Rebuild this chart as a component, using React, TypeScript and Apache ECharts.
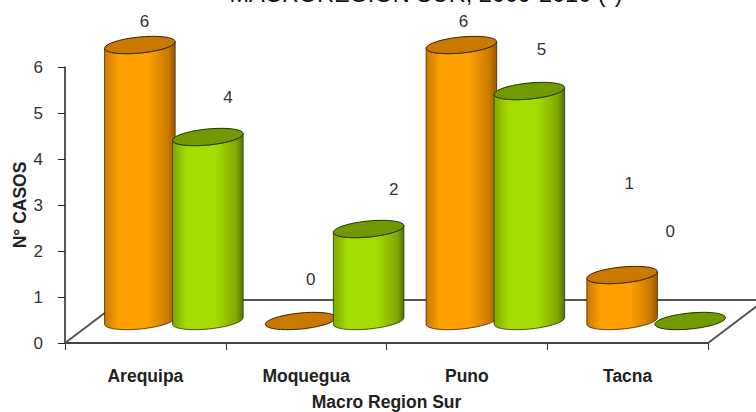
import React, { useEffect, useRef } from "react";
import * as echarts from "echarts";

const categories = ["Arequipa", "Moquegua", "Puno", "Tacna"];
const orangeValues = [6, 0, 6, 1];
const greenValues = [4, 2, 5, 0];
const valueTicks = [0, 1, 2, 3, 4, 5, 6];

// Where each count sits relative to the top of its cylinder.
const orangeLabelNudge = [[4.5, -24], [10, -42], [2, -24], [7, -92]];
const greenLabelNudge = [[20, -40], [25, -40], [12, -42], [-20, -90]];

const FONT = "'Liberation Sans', Arial, sans-serif";
const TILT_RAD = (5.6 * Math.PI) / 180; // lean of the cylinder ellipses
const FLOOR_LIFT = 22; // px from the axis baseline up to the middle of the cylinder bases
const DEPTH_SHIFT = 28.5; // px the columns sit to the right of the band centre
const RY = 8;

type Palette = { edge: string; darkEdge: string; mid: string; top: string; line: string };
const orangePalette: Palette = { edge: "#c87a00", darkEdge: "#9c5a00", mid: "#ff9f00", top: "#c97800", line: "#3d2200" };
const greenPalette: Palette = { edge: "#7fa800", darkEdge: "#557500", mid: "#a2dc00", top: "#6f9a00", line: "#243300" };

// Point on a leaning ellipse; t = 0 is its right end, t = PI/2 its lower side.
function ellipsePoint(cx: number, cy: number, rx: number, t: number) {
  const ex = rx * Math.cos(t);
  const ey = RY * Math.sin(t);
  return [cx + ex * Math.cos(TILT_RAD) + ey * Math.sin(TILT_RAD), cy - ex * Math.sin(TILT_RAD) + ey * Math.cos(TILT_RAD)];
}

function arcPath(cx: number, cy: number, rx: number, from: number, to: number) {
  const steps = 40;
  const parts: string[] = [];
  for (let i = 0; i <= steps; i++) {
    const p = ellipsePoint(cx, cy, rx, from + ((to - from) * i) / steps);
    parts.push(`${p[0].toFixed(2)} ${p[1].toFixed(2)}`);
  }
  return parts;
}

function cylinderSeries(
  name: string,
  values: number[],
  side: number,
  palette: Palette,
  nudges: number[][],
) {
  return {
    name,
    type: "custom",
    coordinateSystem: "cartesian2d",
    clip: false,
    data: values.map((v, i) => [i, v]),
    encode: { x: 0, y: 1 },
    renderItem: (params: any, api: any) => {
      const cat = api.value(0);
      const val = api.value(1);
      const band = api.size([1, 0])[0];
      const [cx0, topY0] = api.coord([cat, val]);
      const baseY0 = api.coord([cat, 0])[1];
      const cx = cx0 + DEPTH_SHIFT + side * band * 0.2115;
      const rx = band * 0.2205;
      const topY = topY0 - FLOOR_LIFT;
      const baseY = baseY0 - FLOOR_LIFT;
      const ellipse = "M " + arcPath(cx, topY, rx, 0, Math.PI * 2).join(" L ") + " Z";
      // Outer outline: lower half of the base, then the lower edge of the top ellipse.
      const bodyPts = [
        ...arcPath(cx, baseY, rx, Math.PI, 0),
        ...arcPath(cx, topY, rx, 0, Math.PI),
      ];
      const body = "M " + bodyPts.join(" L ") + " Z";
      const nudge = nudges[params.dataIndex];
      const children: any[] = [];
      if (val > 0) {
        children.push({
          type: "path",
          shape: { pathData: body },
          style: {
            fill: new echarts.graphic.LinearGradient(0, 0, 1, 0, [
              { offset: 0, color: palette.edge },
              { offset: 0.2, color: palette.mid },
              { offset: 0.62, color: palette.mid },
              { offset: 0.9, color: palette.edge },
              { offset: 1, color: palette.darkEdge },
            ]),
            stroke: palette.line,
            lineWidth: 0.8,
          },
        });
      }
      children.push({
        type: "path",
        shape: { pathData: ellipse },
        style: { fill: palette.top, stroke: palette.line, lineWidth: 1 },
      });
      children.push({
        type: "text",
        style: {
          text: String(val),
          x: cx + nudge[0],
          y: topY + nudge[1],
          fill: "#333333",
          font: `17px ${FONT}`,
          align: "center",
          verticalAlign: "middle",
        },
      });
      return { type: "group", children };
    },
  };
}

// The floor of the plot: a receding parallelogram behind the columns.
const floorSeries = {
  type: "custom",
  coordinateSystem: "cartesian2d",
  clip: false,
  silent: true,
  z: 1,
  data: [[0, 0]],
  renderItem: (_params: any, api: any) => {
    const band = api.size([1, 0])[0];
    const [x0, y0] = api.coord([0, 0]);
    const left = x0 - band / 2;
    const right = left + band * categories.length;
    return {
      type: "polyline",
      shape: { points: [[left, y0], [left + 57, y0 - 43], [right + 57, y0 - 43], [right, y0]] },
      style: { stroke: "#555555", lineWidth: 2, fill: "none" },
    };
  },
};

const boldText = { fontFamily: FONT, fontSize: 17.5, fontWeight: "bold", color: "#222222" };

export default function App() {
  const ref = useRef<HTMLDivElement>(null);
  useEffect(() => {
    const chart = echarts.init(ref.current!, null, { renderer: "svg" });
    chart.setOption({
      animation: false,
      backgroundColor: "#ffffff",
      title: {
        text: "MACROREGION SUR, 2009-2010 (*)",
        left: 421,
        textAlign: "center",
        top: -23,
        textStyle: { fontFamily: FONT, fontSize: 23.5, fontWeight: "normal", color: "#111111" },
      },
      grid: { left: 65, right: 48, top: 67, bottom: 69, outerBoundsMode: "none" },
      xAxis: {
        type: "category",
        data: categories,
        boundaryGap: true,
        axisLine: { lineStyle: { color: "#444444", width: 2 } },
        axisTick: { show: true, alignWithLabel: false, length: 7, lineStyle: { color: "#333333", width: 1 } },
        axisLabel: { ...boldText, margin: 24 },
        name: "Macro Region Sur",
        nameLocation: "middle",
        nameMoveOverlap: false,
        nameGap: 50,
        nameTextStyle: boldText,
      },
      yAxis: {
        type: "value",
        min: valueTicks[0],
        max: valueTicks[valueTicks.length - 1],
        interval: 1,
        splitLine: { show: false },
        axisLine: { show: true, lineStyle: { color: "#222222", width: 1.5 } },
        axisTick: { show: true, length: 7, lineStyle: { color: "#222222" } },
        axisLabel: { margin: 22, fontFamily: FONT, fontSize: 17, color: "#333333" },
        name: "N° CASOS",
        nameLocation: "middle",
        nameMoveOverlap: false,
        nameGap: 36,
        nameTextStyle: boldText,
      },
      series: [
        floorSeries,
        cylinderSeries("Serie naranja", orangeValues, -1, orangePalette, orangeLabelNudge),
        cylinderSeries("Serie verde", greenValues, 1, greenPalette, greenLabelNudge),
      ],
    });
    return () => chart.dispose();
  }, []);
  return <div ref={ref} style={{ position: "absolute", left: 0, top: 0, width: 756, height: 412 }} />;
}
